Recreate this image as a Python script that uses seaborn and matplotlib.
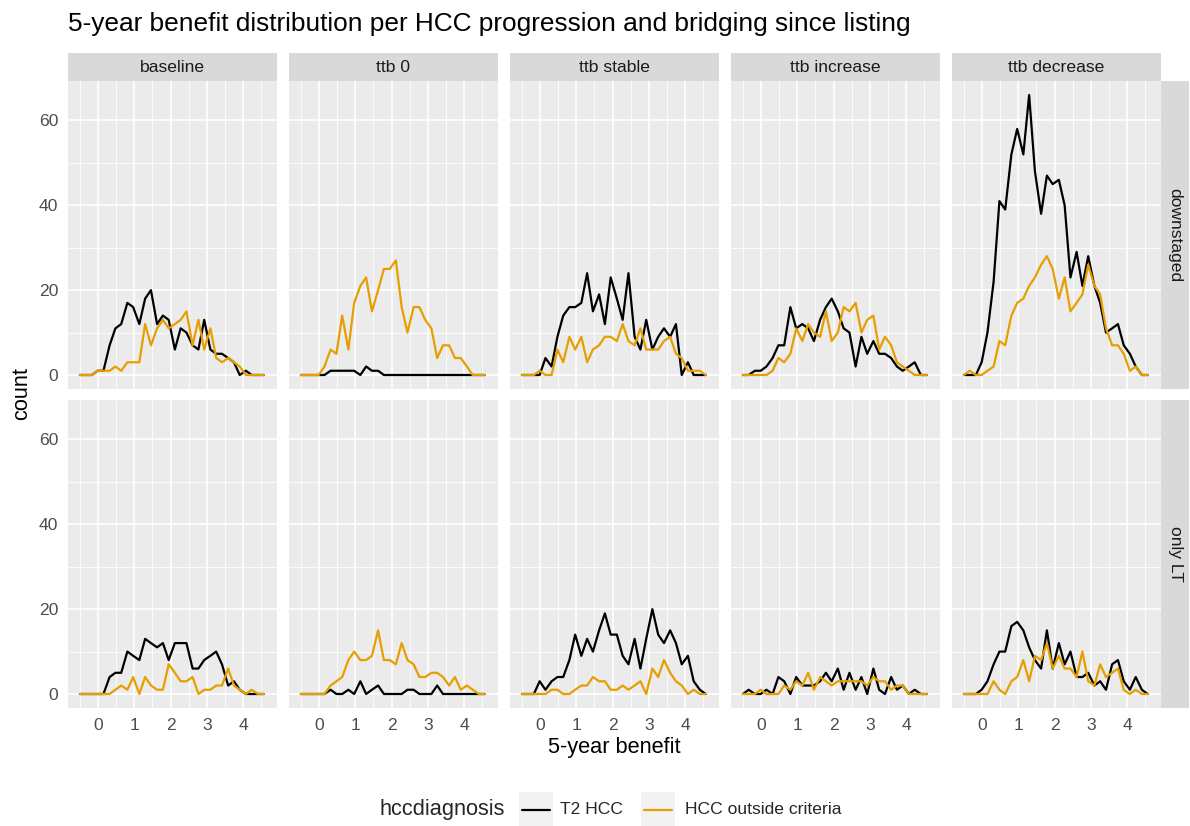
import numpy as np
import pandas as pd
import matplotlib
matplotlib.use("Agg")
import matplotlib.pyplot as plt
from matplotlib.patches import Rectangle
from matplotlib.lines import Line2D
import seaborn as sns

sns.set_style("white")
plt.rcParams['font.family'] = ['Liberation Sans', 'DejaVu Sans']

# ---------------- data ----------------
benefit = [-0.5, -0.34, -0.17, -0.01, 0.15, 0.32, 0.48, 0.64, 0.81, 0.97, 1.14, 1.30,
           1.46, 1.63, 1.79, 1.95, 2.12, 2.28, 2.44, 2.61, 2.77, 2.93, 3.10, 3.26,
           3.42, 3.59, 3.75, 3.91, 4.08, 4.24, 4.41, 4.57]

scenarios = ["baseline", "ttb 0", "ttb stable", "ttb increase", "ttb decrease"]
groups = ["downstaged", "only LT"]
diagnoses = ["T2 HCC", "HCC outside criteria"]

# downstaged
t2_baseline_down = [0,0,0,1,1,7,11,12,17,16,12,18,20,12,14,13,6,11,10,7,6,13,6,5,5,4,3,0,1,0,0,0]
out_baseline_down = [0,0,0,1,1,1,2,1,3,3,3,12,7,11,13,11,12,13,15,7,13,6,11,4,3,4,3,2,0,0,0,0]
t2_ttb0_down = [0,0,0,0,0,1,1,1,1,1,0,2,1,1,0,0,0,0,0,0,0,0,0,0,0,0,0,0,0,0,0,0]
out_ttb0_down = [0,0,0,0,2,6,5,14,6,17,21,23,15,20,25,25,27,16,10,16,16,13,11,4,7,7,4,4,2,0,0,0]
t2_stable_down = [0,0,0,0,4,2,9,14,16,16,17,24,15,19,12,23,18,13,24,9,6,13,6,9,11,9,12,0,3,0,0,0]
out_stable_down = [0,0,0,1,0,0,6,3,9,6,9,3,6,7,9,9,8,12,8,7,11,6,6,6,8,9,5,4,1,1,1,0]
t2_increase_down = [0,0,1,1,2,4,7,7,16,11,12,11,8,13,16,18,15,11,10,2,9,5,8,5,5,4,2,1,2,3,0,0]
out_increase_down = [0,0,0,0,0,1,4,3,5,11,8,12,10,9,15,8,10,16,15,17,10,13,14,6,9,7,3,2,1,0,0,0]
t2_decrease_down = [0,0,0,3,10,22,41,39,52,58,52,66,48,38,47,45,46,40,23,29,21,28,21,17,10,11,12,7,5,2,0,0]
out_decrease_down = [0,1,0,0,1,2,8,7,14,17,18,21,23,26,28,25,18,23,15,17,19,26,21,19,11,7,7,5,1,2,0,0]

# only LT
t2_baseline_lt = [0,0,0,0,0,4,5,5,10,9,8,13,12,11,12,8,12,12,12,6,6,8,9,10,7,2,3,1,0,0,0,0]
out_baseline_lt = [0,0,0,0,0,0,1,2,1,4,0,4,2,1,1,7,5,3,3,4,0,1,1,2,2,6,2,1,0,1,0,0]
t2_ttb0_lt = [0,0,0,0,0,1,0,0,1,0,3,0,1,2,0,0,0,0,1,1,0,0,0,2,0,0,0,0,0,0,0,0]
out_ttb0_lt = [0,0,0,0,0,2,3,4,8,10,8,8,9,15,8,8,7,12,8,7,4,4,5,5,4,2,4,1,2,1,0,0]
t2_stable_lt = [0,0,0,3,1,3,4,4,8,14,9,13,10,15,19,14,14,9,7,13,6,13,20,14,12,15,12,7,9,3,1,0]
out_stable_lt = [0,0,0,0,0,1,1,0,0,1,2,2,4,3,3,1,1,2,1,2,3,0,6,4,8,5,3,2,0,1,0,0]
t2_increase_lt = [0,1,0,0,1,0,4,3,0,4,2,2,2,3,5,3,6,1,5,1,4,0,6,1,0,4,1,2,0,1,0,0]
out_increase_lt = [0,0,0,1,0,0,0,2,1,3,2,5,1,4,3,2,3,3,3,3,3,2,4,3,3,1,2,2,0,0,0,0]
t2_decrease_lt = [0,0,0,1,3,7,10,10,16,17,15,11,8,6,15,6,12,7,10,4,4,5,2,3,1,7,8,3,1,4,1,0]
out_decrease_lt = [0,0,0,0,0,3,1,0,3,4,8,3,9,8,12,6,9,6,6,4,10,3,2,7,4,5,6,1,0,1,0,0]

series = {
    ("downstaged", "baseline"): (t2_baseline_down, out_baseline_down),
    ("downstaged", "ttb 0"): (t2_ttb0_down, out_ttb0_down),
    ("downstaged", "ttb stable"): (t2_stable_down, out_stable_down),
    ("downstaged", "ttb increase"): (t2_increase_down, out_increase_down),
    ("downstaged", "ttb decrease"): (t2_decrease_down, out_decrease_down),
    ("only LT", "baseline"): (t2_baseline_lt, out_baseline_lt),
    ("only LT", "ttb 0"): (t2_ttb0_lt, out_ttb0_lt),
    ("only LT", "ttb stable"): (t2_stable_lt, out_stable_lt),
    ("only LT", "ttb increase"): (t2_increase_lt, out_increase_lt),
    ("only LT", "ttb decrease"): (t2_decrease_lt, out_decrease_lt),
}

rows = []
for (grp, scen), (t2, out) in series.items():
    for diag, vals in zip(diagnoses, (t2, out)):
        for b, c in zip(benefit, vals):
            rows.append(dict(group=grp, scenario=scen, hccdiagnosis=diag, benefit=b, count=c))
df = pd.DataFrame(rows)

palette = {"T2 HCC": "#000000", "HCC outside criteria": "#E69F00"}

# ---------------- layout ----------------
FW, FH = 1190, 826
fig = plt.figure(figsize=(FW / 100, FH / 100), dpi=100)
fig.patch.set_facecolor("white")

def fax(x, y, w, h):
    return [x / FW, 1 - (y + h) / FH, w / FW, h / FH]

L0, PW, PITCH = 68, 209, 221
row_top = [81, 400]
PH = 308
STRIP = 28
TICK_FS = 12.6
tick_col = "#4D4D4D"
LW = 1.6

for r, grp in enumerate(groups):
    for c, scen in enumerate(scenarios):
        x = L0 + c * PITCH
        y = row_top[r]
        ax = fig.add_axes(fax(x, y, PW, PH))
        ax.set_facecolor("#EBEBEB")
        sub = df[(df.group == grp) & (df.scenario == scen)]
        sns.lineplot(data=sub, x="benefit", y="count", hue="hccdiagnosis",
                     hue_order=diagnoses, palette=palette, ax=ax, legend=False,
                     linewidth=LW, estimator=None, sort=True)
        ax.set_xlim(-0.828, 4.938)
        ax.set_ylim(-3.3, 69.3)
        ax.set_xticks([0, 1, 2, 3, 4])
        ax.set_xticks([-0.5, 0.5, 1.5, 2.5, 3.5, 4.5], minor=True)
        ax.set_yticks([0, 20, 40, 60])
        ax.set_yticks([10, 30, 50], minor=True)
        ax.grid(which="major", color="white", linewidth=1.2)
        ax.grid(which="minor", color="white", linewidth=0.6)
        ax.set_axisbelow(True)
        for s in ax.spines.values():
            s.set_visible(False)
        ax.set_xlabel("")
        ax.set_ylabel("")
        ax.tick_params(which="minor", length=0)
        ax.tick_params(which="major", length=4, width=0.9, color="#333333",
                       labelsize=TICK_FS, labelcolor=tick_col, pad=3)
        if c != 0:
            ax.tick_params(axis="y", left=False, labelleft=False)
        if r != 1:
            ax.tick_params(axis="x", bottom=False, labelbottom=False)

        # top strips
        if r == 0:
            sax = fig.add_axes(fax(x, 53, PW, STRIP))
            sax.set_facecolor("#D9D9D9")
            sax.set_xticks([]); sax.set_yticks([])
            for s in sax.spines.values():
                s.set_visible(False)
            sax.text(0.5, 0.5, scen, ha="center", va="center", fontsize=TICK_FS,
                     color="#1A1A1A", transform=sax.transAxes)
    # right strips
    rx = L0 + 4 * PITCH + PW
    rax = fig.add_axes(fax(rx, row_top[r], STRIP, PH))
    rax.set_facecolor("#D9D9D9")
    rax.set_xticks([]); rax.set_yticks([])
    for s in rax.spines.values():
        s.set_visible(False)
    rax.text(0.5, 0.5, grp, ha="center", va="center", rotation=-90, fontsize=TICK_FS,
             color="#1A1A1A", transform=rax.transAxes)

# titles
fig.text(68 / FW, 1 - 31 / FH,
         "5-year benefit distribution per HCC progression and bridging since listing",
         fontsize=18.9, ha="left", va="baseline", color="black")
fig.text((L0 + 4 * PITCH + PW + L0) / 2 / FW, 1 - 747 / FH, "5-year benefit",
         fontsize=15.7, ha="center", va="center", color="black")
fig.text(22 / FW, 1 - 394 / FH, "count", fontsize=15.7, rotation=90,
         ha="center", va="center", color="black")

# legend
ly = 810
fig.text(380 / FW, 1 - ly / FH, "hccdiagnosis", fontsize=15.7, ha="left", va="center")
for kx, tx, diag in [(519, 560, "T2 HCC"), (641, 685, "HCC outside criteria")]:
    fig.patches.append(Rectangle((kx / FW, 1 - 828 / FH), 34 / FW, 36 / FH,
                                 transform=fig.transFigure, facecolor="#F2F2F2",
                                 edgecolor="none"))
    fig.lines.append(Line2D([(kx + 3) / FW, (kx + 31) / FW], [1 - ly / FH, 1 - ly / FH],
                            transform=fig.transFigure, color=palette[diag], linewidth=LW))
    fig.text(tx / FW, 1 - ly / FH, diag, fontsize=TICK_FS, ha="left", va="center")

fig.savefig("out.png", dpi=100)
